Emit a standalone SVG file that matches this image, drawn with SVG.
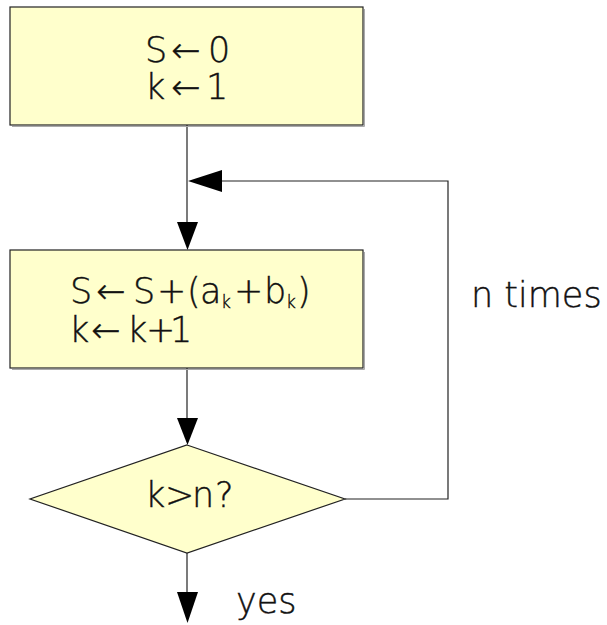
<svg xmlns="http://www.w3.org/2000/svg" width="607" height="625" viewBox="0 0 607 625">
<style>
.node{fill:#ffffcc;stroke:#222;stroke-width:1.2}
.shadow{fill:none;stroke:#aaa;stroke-width:1}
.t{font-family:"DejaVu Sans","Liberation Sans",sans-serif;font-weight:200;font-size:35px;fill:#111;stroke:#111;stroke-width:0.4}
.sub{font-size:17px}
.c{fill:none;stroke:#222;stroke-width:1.2}
.ah{fill:#000}
</style>
<rect width="607" height="625" fill="#fff"/>
<g id="connectors">
<line class="c" x1="187" y1="125" x2="187" y2="226"/>
<polygon class="ah" points="177,222 198,222 187.5,250"/>
<polyline class="c" points="345,499 448,499 448,181 218,181"/>
<polygon class="ah" points="222,170 222,192 188,181"/>
<line class="c" x1="187" y1="368" x2="187" y2="420"/>
<polygon class="ah" points="177,418 198,418 187.5,445"/>
<line class="c" x1="187" y1="553" x2="187" y2="596"/>
<polygon class="ah" points="177,592 198,592 187.5,623"/>
<text class="t" x="471" y="307">n times</text>
<text class="t" x="236" y="613">yes</text>
</g>
<g id="init">
<polyline class="shadow" points="12,126.5 364.5,126.5 364.5,9"/>
<rect class="node" x="10" y="7" width="353" height="118"/>
<text class="t" x="145 171 208" y="62">S←0</text>
<text class="t" x="145 171 206" y="99">k←1</text>
</g>
<g id="update">
<polyline class="shadow" points="12,369.5 364.5,369.5 364.5,252"/>
<rect class="node" x="10" y="250" width="353" height="118"/>
<text class="t" y="303"><tspan x="70 96 133 157 187 200">S←S+(a</tspan><tspan class="sub" x="221" dy="5">k</tspan><tspan x="234 264" dy="-5">+b</tspan><tspan class="sub" x="286" dy="5">k</tspan><tspan x="297" dy="-5">)</tspan></text>
<text class="t" x="69 91 127 146 170" y="342">k←k+1</text>
</g>
<g id="test">
<polygon class="node" points="187,445 345,499 187,553 30,499"/>
<text class="t" x="145 165 192 215" y="507">k&gt;n?</text>
</g>
</svg>
